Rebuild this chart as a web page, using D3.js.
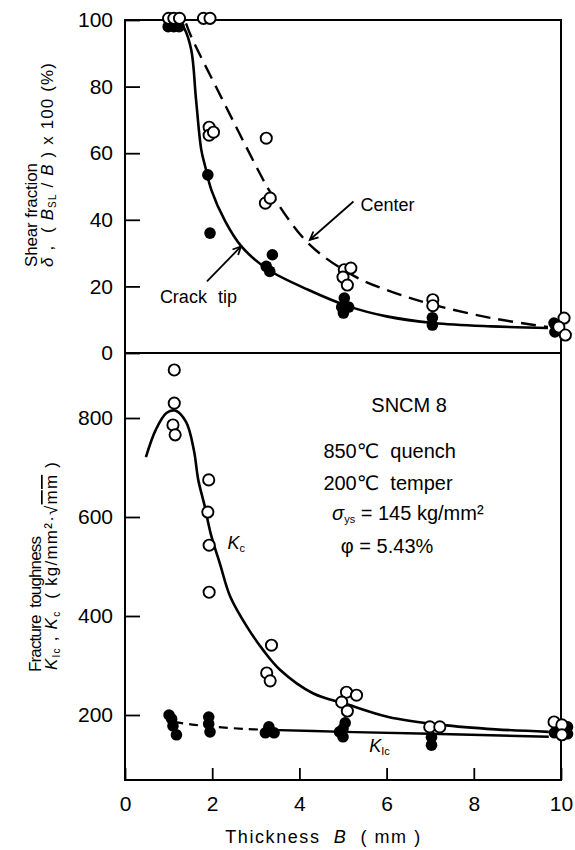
<!DOCTYPE html>
<html><head><meta charset="utf-8">
<script src="https://cdn.jsdelivr.net/npm/d3@7"></script>
<style>
html,body{margin:0;padding:0;background:#fff;}
svg text{font-family:"Liberation Sans","DejaVu Sans",sans-serif;fill:#000;}
</style></head>
<body><svg id="c" width="575" height="850"></svg>
<script>
// ---- data ----
const xTicks = [0, 2, 4, 6, 8, 10];
const shearTicks = [0, 20, 40, 60, 80, 100];
const kTicks = [200, 400, 600, 800];

// shear fraction, center (open circles)
const centerPts = [[1.0,100.5],[1.12,100.5],[1.25,100.5],[1.8,100.5],[1.95,100.5],
  [1.93,67.8],[1.93,65.4],[2.03,66.3],[3.24,64.5],[3.22,45],[3.33,46.5],
  [5.03,25],[5.18,25.5],[5.0,22.8],[5.1,20.4],[7.06,16],[7.06,14.2],
  [10.07,10.5],[9.95,7.8],[10.1,5.4]];
// shear fraction, crack tip (filled)
const crackPts = [[0.99,98],[1.12,98],[1.24,98],[1.9,53.5],[1.95,36],
  [3.38,29.5],[3.24,26],[3.32,24.5],[5.03,16.5],[4.97,13.8],[5.13,13.8],[5.01,12],
  [7.05,10.6],[7.05,8.4],[9.84,9],[9.86,6.3]];
const crackCurve = [[1.3,98.5],[1.36,97.5],[1.52,91],[1.63,76],[1.75,61],[1.84,56],
  [1.98,49],[2.3,39.5],[2.67,32],[3.29,25],[4.2,19],[5.13,14],[6,11],[7.08,9],[8.4,8],[9.7,7.5]];
const centerCurve = [[1.4,99],[1.52,95],[2.2,77],[3.13,53],[3.3,49],[4.2,33],
  [5.27,23],[6.2,18],[7.1,14.4],[8.4,10.5],[9.7,7.8]];

// fracture toughness Kc (open) and KIc (filled)
const kcPts = [[1.13,897],[1.13,830],[1.1,786],[1.15,766],[1.92,675],[1.9,610],
  [1.93,543],[1.93,448],[3.36,341],[3.25,285],[3.33,269],[5.08,246],[5.31,240],
  [4.97,226],[5.1,208],[6.99,176],[7.22,176],[9.84,186],[10.02,180],[10.02,160]];
const kicPts = [[1.01,200],[1.07,192],[1.1,178],[1.18,160],[1.92,196],[1.92,182],
  [1.95,166],[3.3,176],[3.22,164],[3.42,164],[5.05,184],[5.0,172],[5.0,156],[4.92,166],
  [7.03,155],[7.03,139],[9.85,164],[10.15,176],[10.15,162]];
const kcCurve = [[0.48,721],[0.7,775],[0.95,810],[1.15,815],[1.4,792],[1.58,735],
  [1.68,675],[1.82,625],[1.97,565],[2.18,505],[2.41,440],[2.8,378],[3.17,331],
  [3.56,291],[4.31,244],[5.08,222],[6.04,196],[7.26,180],[8.5,171],[9.72,166]];
const kicDash = [[1.13,186],[1.6,180],[2.1,176],[2.7,172],[3.3,170]];
const kicSolid = [[3.3,170],[5.0,166],[7.0,162],[9.72,156]];

// ---- layout ----
const svg = d3.select("#c");
const x = d3.scaleLinear().domain([0,10]).range([125,561]);
const yT = d3.scaleLinear().domain([0,100]).range([353,20]);
const yB = d3.scaleLinear().domain([200,800]).range([715,418]);
const FS = 21;

// frames
svg.append("rect").attr("x",x(0)).attr("y",yT(100)).attr("width",x(10)-x(0)).attr("height",yT(0)-yT(100))
  .attr("fill","none").attr("stroke","#000").attr("stroke-width",2);
svg.append("rect").attr("x",x(0)).attr("y",yT(0)).attr("width",x(10)-x(0)).attr("height",780-yT(0))
  .attr("fill","none").attr("stroke","#000").attr("stroke-width",2);

function styleAxis(g){
  g.select(".domain").remove();
  g.selectAll(".tick line").attr("stroke","#000").attr("stroke-width",1.8);
  g.selectAll(".tick text").attr("font-size",FS).attr("font-family","Liberation Sans");
}
svg.append("g").attr("transform",`translate(${x(0)},0)`)
  .call(d3.axisLeft(yT).tickValues(shearTicks).tickSize(-15).tickPadding(12).tickFormat(d3.format("d")))
  .call(styleAxis);
svg.append("g").attr("transform",`translate(${x(0)},0)`)
  .call(d3.axisLeft(yB).tickValues(kTicks).tickSize(-15).tickPadding(12).tickFormat(d3.format("d")))
  .call(styleAxis);
svg.append("g").attr("transform",`translate(0,780)`)
  .call(d3.axisBottom(x).tickValues(xTicks).tickSize(-12).tickPadding(16).tickFormat(d3.format("d")))
  .call(styleAxis);

// curves
const lineT = d3.line().x(d=>x(d[0])).y(d=>yT(d[1])).curve(d3.curveCatmullRom.alpha(0.5));
const lineB = d3.line().x(d=>x(d[0])).y(d=>yB(d[1])).curve(d3.curveCatmullRom.alpha(0.5));
svg.append("path").attr("d",lineT(crackCurve)).attr("fill","none").attr("stroke","#000").attr("stroke-width",2.6);
svg.append("path").attr("d",lineT(centerCurve)).attr("fill","none").attr("stroke","#000").attr("stroke-width",2.4)
  .attr("stroke-dasharray","15,8");
svg.append("path").attr("d",lineB(kcCurve)).attr("fill","none").attr("stroke","#000").attr("stroke-width",2.6);
svg.append("path").attr("d",lineB(kicDash)).attr("fill","none").attr("stroke","#000").attr("stroke-width",2.2)
  .attr("stroke-dasharray","9,6");
svg.append("path").attr("d",lineB(kicSolid)).attr("fill","none").attr("stroke","#000").attr("stroke-width",2.4);

// markers
function openPts(data, ys){
  svg.append("g").selectAll("circle").data(data).join("circle")
    .attr("cx",d=>x(d[0])).attr("cy",d=>ys(d[1])).attr("r",5.6)
    .attr("fill","#fff").attr("stroke","#000").attr("stroke-width",1.9);
}
function fillPts(data, ys){
  svg.append("g").selectAll("circle").data(data).join("circle")
    .attr("cx",d=>x(d[0])).attr("cy",d=>ys(d[1])).attr("r",5.8).attr("fill","#000");
}
fillPts(crackPts, yT);
openPts(centerPts, yT);
fillPts(kicPts, yB);
openPts(kcPts, yB);

// arrows (annotations)
function arrow(x1,y1,x2,y2){
  svg.append("line").attr("x1",x1).attr("y1",y1).attr("x2",x2).attr("y2",y2)
    .attr("stroke","#000").attr("stroke-width",1.8);
  const a = Math.atan2(y2-y1,x2-x1), L=9, w=0.45;
  svg.append("path").attr("d",`M${x2-L*Math.cos(a-w)},${y2-L*Math.sin(a-w)}L${x2},${y2}L${x2-L*Math.cos(a+w)},${y2-L*Math.sin(a+w)}`)
    .attr("fill","none").attr("stroke","#000").attr("stroke-width",1.8);
}
arrow(x(5.24), yT(45.5), x(4.24), yT(34));
arrow(x(1.88), yT(21.5), x(2.66), yT(32));

svg.append("text").attr("x",x(5.4)).attr("y",yT(42.5)).attr("font-size",18).text("Center");
svg.append("text").attr("x",x(0.8)).attr("y",yT(15)).attr("font-size",18).attr("word-spacing",6).text("Crack tip");

// info block
svg.append("text").attr("x",x(5.65)).attr("y",yB(812)).attr("font-size",20).text("SNCM 8");
svg.append("text").attr("x",x(4.55)).attr("y",yB(720)).attr("font-size",20).attr("xml:space","preserve").text("850\u2103  quench");
svg.append("text").attr("x",x(4.55)).attr("y",yB(655)).attr("font-size",20).attr("xml:space","preserve").text("200\u2103  temper");
const s1 = svg.append("text").attr("x",x(4.75)).attr("y",yB(593)).attr("font-size",20);
s1.append("tspan").attr("font-style","italic").text("\u03c3");
s1.append("tspan").attr("font-size",11).attr("dy",3).text("ys");
s1.append("tspan").attr("dy",-3).text(" = 145 kg/mm\u00b2");
svg.append("text").attr("x",x(4.95)).attr("y",yB(528)).attr("font-size",20).text("\u03c6 = 5.43%");

// curve labels
const kc = svg.append("text").attr("x",x(2.35)).attr("y",yB(536)).attr("font-size",18);
kc.append("tspan").attr("font-style","italic").text("K");
kc.append("tspan").attr("font-size",11).attr("dy",3).text("c");
const kic = svg.append("text").attr("x",x(5.6)).attr("y",yB(125)).attr("font-size",18);
kic.append("tspan").attr("font-style","italic").text("K");
kic.append("tspan").attr("font-size",11).attr("dy",3).text("Ic");

// axis titles
svg.append("text").attr("transform","translate(37,267) rotate(-90)").attr("font-size",17)
  .attr("textLength",104).attr("lengthAdjust","spacing").text("Shear fraction");
const t2 = svg.append("text").attr("transform","translate(53,267) rotate(-90)").attr("font-size",17)
  .attr("xml:space","preserve").attr("textLength",204).attr("lengthAdjust","spacing");
t2.append("tspan").attr("font-style","italic").text("\u03b4");
t2.append("tspan").text(" ,  ( ");
t2.append("tspan").attr("font-style","italic").text("B");
t2.append("tspan").attr("font-size",10).attr("dy",3).text("SL");
t2.append("tspan").attr("dy",-3).text(" / ");
t2.append("tspan").attr("font-style","italic").text("B");
t2.append("tspan").text(" ) x 100 (%)");

svg.append("text").attr("transform","translate(41,672) rotate(-90)").attr("font-size",17)
  .attr("textLength",136).attr("lengthAdjust","spacing").attr("xml:space","preserve").text("Fracture  toughness");
const t4 = svg.append("text").attr("transform","translate(57,670) rotate(-90)").attr("font-size",17)
  .attr("xml:space","preserve").attr("textLength",208).attr("lengthAdjust","spacing");
t4.append("tspan").attr("font-style","italic").text("K");
t4.append("tspan").attr("font-size",10).attr("dy",3).text("Ic");
t4.append("tspan").attr("dy",-3).text(" , ");
t4.append("tspan").attr("font-style","italic").text("K");
t4.append("tspan").attr("font-size",10).attr("dy",3).text("c");
t4.append("tspan").attr("dy",-3).text("  ( kg/mm\u00b2\u00b7\u221a");
t4.append("tspan").attr("text-decoration","overline").text("mm");
t4.append("tspan").text(" )");

const xt = svg.append("text").attr("x",x(2.3)).attr("y",843).attr("font-size",18)
  .attr("xml:space","preserve").attr("textLength",195).attr("lengthAdjust","spacing");
xt.append("tspan").text("Thickness  ");
xt.append("tspan").attr("font-style","italic").text("B");
xt.append("tspan").text("  ( mm )");
</script></body></html>
